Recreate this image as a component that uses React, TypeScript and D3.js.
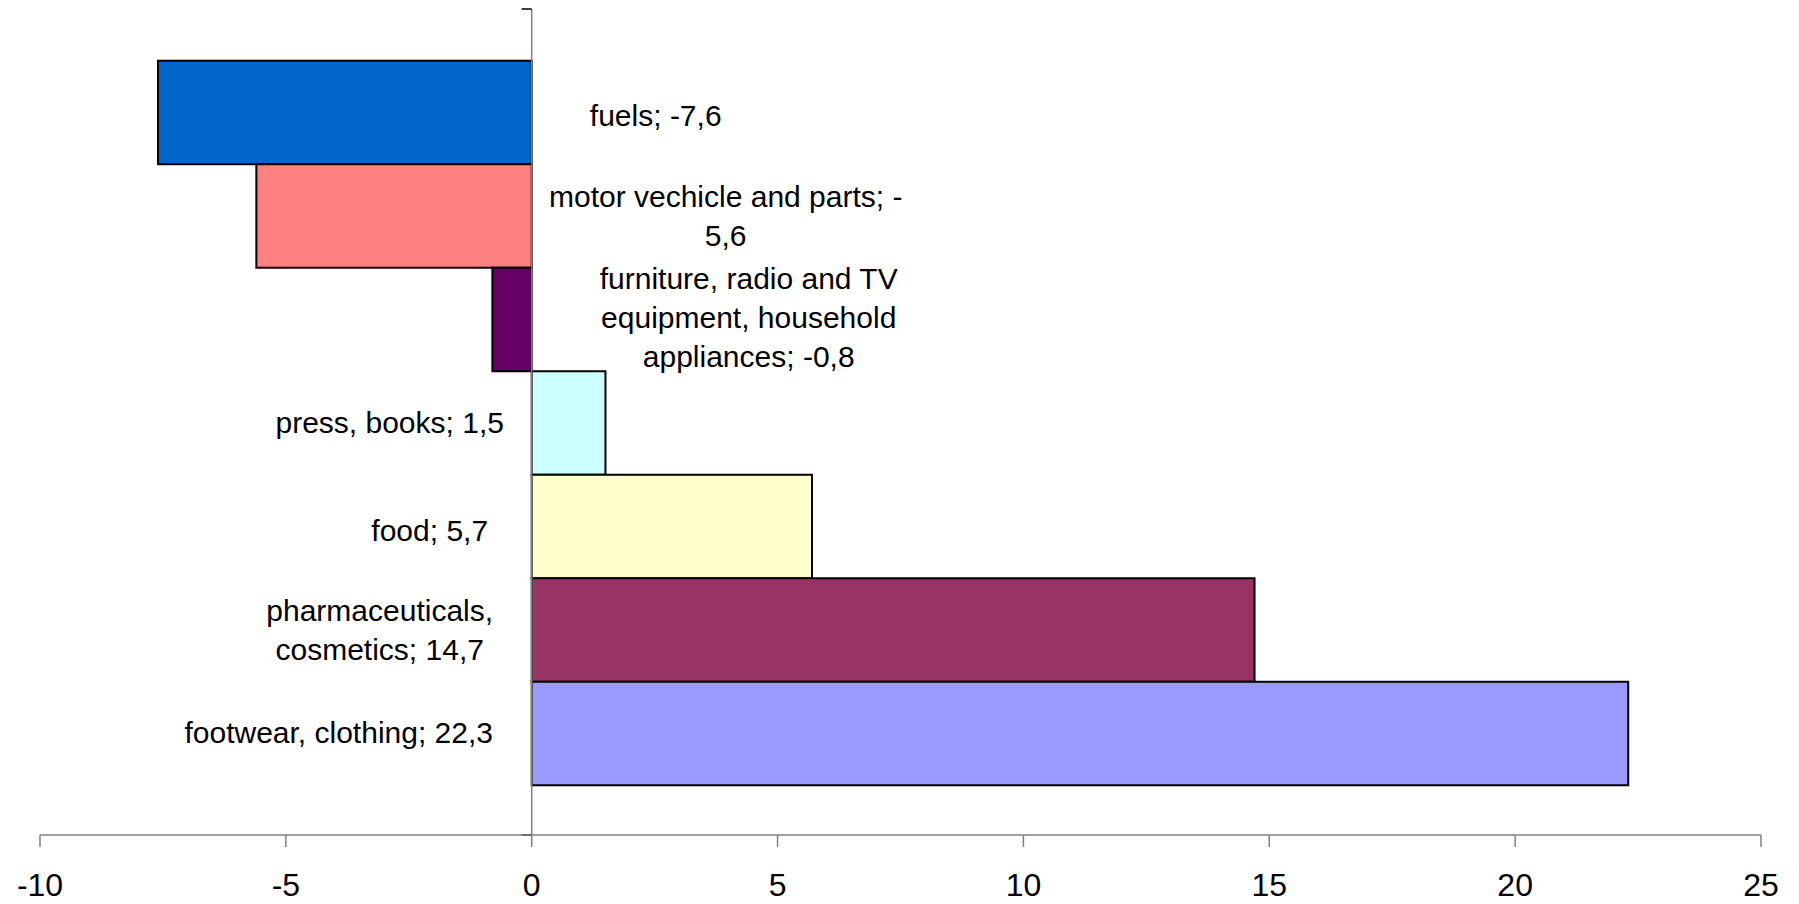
import React from "react";
import * as d3 from "d3";

const categories = [
  "fuels",
  "motor vechicle and parts",
  "furniture, radio and TV equipment, household appliances",
  "press, books",
  "food",
  "pharmaceuticals, cosmetics",
  "footwear, clothing",
];
const values = [-7.6, -5.6, -0.8, 1.5, 5.7, 14.7, 22.3];
const colors = ["#0066CC", "#FF8080", "#660066", "#CCFFFF", "#FFFFCC", "#993366", "#9999FF"];
const labelLines = [
  ["fuels; -7,6"],
  ["motor vechicle and parts; -", "5,6"],
  ["furniture, radio and TV", "equipment, household", "appliances; -0,8"],
  ["press, books; 1,5"],
  ["food; 5,7"],
  ["pharmaceuticals,", "cosmetics; 14,7"],
  ["footwear, clothing; 22,3"],
];
const xTicks = [-10, -5, 0, 5, 10, 15, 20, 25];

// layout: label centre offsets from the zero line (px)
const labelDx = [124, 194, 217, -142, -102, -152, -193];
const labelDy = [3, 0, -2, -1, 4, 0, -1];

const W = 1799;
const H = 904;
const FONT = "'Liberation Sans', Arial, sans-serif";

export default function App() {
  const x = d3.scaleLinear().domain([-10, 25]).range([40, 1761]);
  const y = d3.scaleBand<string>().domain(categories).range([10, 836]).paddingInner(0).paddingOuter(0.49);
  const x0 = x(0);
  const axisY = 835;
  const lineH = 39;

  return (
    <svg
      width={W}
      height={H}
      style={{ position: "absolute", left: 0, top: 0, background: "#fff" }}
      fontFamily={FONT}
    >
      {categories.map((c, i) => {
        const v = values[i];
        const x1 = x(Math.min(0, v));
        const x2 = x(Math.max(0, v));
        return (
          <rect
            key={c}
            x={x1}
            y={y(c)!}
            width={x2 - x1}
            height={y.bandwidth()}
            fill={colors[i]}
            stroke="#000"
            strokeWidth={2}
          />
        );
      })}
      {/* category axis */}
      <line x1={x0} x2={x0} y1={9} y2={axisY} stroke="#808080" strokeWidth={1.5} />
      <line x1={x0 - 10} x2={x0} y1={9} y2={9} stroke="#000" strokeWidth={1.5} />
      <line x1={x0 - 10} x2={x0} y1={axisY} y2={axisY} stroke="#000" strokeWidth={1.5} />
      {/* value axis */}
      <line x1={x(-10)} x2={x(25)} y1={axisY} y2={axisY} stroke="#808080" strokeWidth={1.5} />
      {xTicks.map((t) => (
        <g key={t}>
          <line x1={x(t)} x2={x(t)} y1={axisY} y2={axisY + 12} stroke="#808080" strokeWidth={1.5} />
          <text x={x(t)} y={axisY + 61} textAnchor="middle" fontSize={32} fill="#000">
            {t}
          </text>
        </g>
      ))}
      {/* data labels */}
      {categories.map((c, i) => {
        const lines = labelLines[i];
        const cy = y(c)! + y.bandwidth() / 2 + labelDy[i];
        const startY = cy - ((lines.length - 1) * lineH) / 2;
        return (
          <text key={c} textAnchor="middle" fontSize={30} fill="#000">
            {lines.map((l, j) => (
              <tspan key={j} x={x0 + labelDx[i]} y={startY + j * lineH} dy="0.35em">
                {l}
              </tspan>
            ))}
          </text>
        );
      })}
    </svg>
  );
}
